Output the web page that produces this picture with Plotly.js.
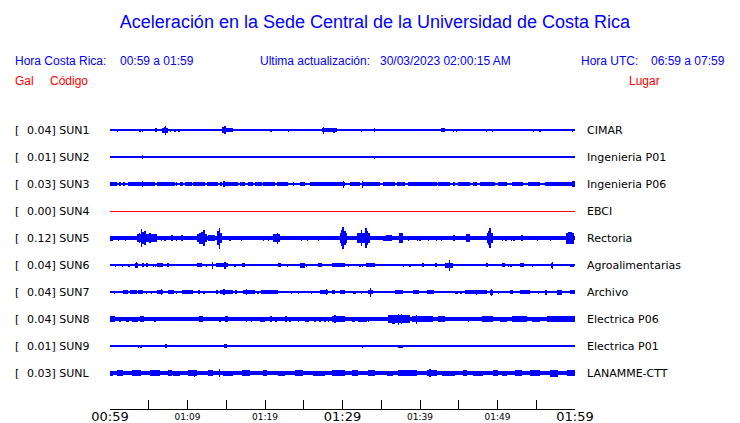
<!DOCTYPE html>
<html>
<head>
<meta charset="utf-8">
<script src="https://cdn.plot.ly/plotly-3.0.1.min.js"></script>
<style>html,body{margin:0;padding:0;background:#fff;}#chart{width:740px;height:423px;}</style>
</head>
<body>
<div id="chart"></div>
<script>
// ---- data ----
const codes  = ['SUN1','SUN2','SUN3','SUN4','SUN5','SUN6','SUN7','SUN8','SUN9','SUNL'];
const places = ['CIMAR','Ingenieria P01','Ingenieria P06','EBCI','Rectoria','Agroalimentarias','Archivo','Electrica P06','Electrica P01','LANAMME-CTT'];
const gal    = [0.04,0.01,0.03,0.00,0.12,0.04,0.04,0.04,0.01,0.03];
// background noise level (half amplitude) per station
const noise  = [0.55,0.55,1.2,0.5,2,0.55,0.55,1.7,0.55,1.7];
const tickMinutes = [0,5,10,15,20,25,30,35,40,45,50,55,60];
const minorLabels = ['','','01:09','','01:19','','','','01:39','','01:49','',''];
const majorMinutes = [0,30,60];
const majorLabels = ['00:59','01:29','01:59'];

// events per station: [minute after 00:59, duration (min), half amplitude]
const SUN1 = [[0.94,0.15,1.5],[3.87,0.15,1.5],[4.17,0.15,1.5],[5.9,0.3,1.8],[7.1,0.8,2.5],[7.14,0.15,4.5],[7.0,0.15,3],[7.78,0.15,1.5],[8.39,0.15,1.5],[8.9,0.15,1.5],[15.2,1.3,2],[14.84,0.2,4],[14.7,0.4,3],[19.14,0.15,1],[19.57,0.15,1.2],[20.77,0.15,1.5],[23.01,0.15,1.5],[28.3,1.9,2],[27.57,0.15,3.5],[28.9,0.15,2.5],[32.48,0.15,1.5],[33.55,0.15,1],[34.13,0.25,2],[43.0,0.5,2],[44.3,0.15,1.5],[44.74,0.15,1.5],[48.61,0.15,1.5],[49.33,0.15,1.5],[54.62,0.15,1.5],[55.48,0.15,1.5],[59.65,0.15,1.5]];
const SUN2 = [[4.17,0.15,1.7],[5.81,0.15,1],[34.13,0.25,1.5],[59.78,0.15,1]];
const SUN3 = [[0.43,0.86,2],[1.29,0.15,2],[1.83,0.22,2],[3.22,1.73,2],[4.17,0.15,3.2],[5.05,1.5,2],[7.21,2.36,2],[8.61,0.15,2],[9.25,0.43,2],[10.11,0.86,2],[11.5,1.5,2],[13.23,1.5,2],[14.3,0.22,2],[15.59,1.94,2],[14.71,0.15,3],[17.1,0.65,2],[18.17,0.64,2],[19.14,0.86,2],[20.54,1.51,2],[22.26,1.5,2],[23.65,0.2,2],[24.84,0.64,2],[28.07,4.51,2],[30.1,0.15,3.5],[31.62,1.29,2],[32.6,0.15,3.5],[33.66,2.36,2],[36.02,1.51,2],[37.53,1.07,2],[40.32,3.66,2],[43.12,1.51,2],[44.41,0.22,2],[45.7,1.51,2],[47.06,0.51,2],[48.71,1.94,2],[50.64,1.08,2],[52.58,1.5,2],[54.73,1.5,2],[58.07,3.87,2],[59.8,0.3,3]];
const SUN4 = [];
const SUN5 = [[0.2,0.43,2.5],[1.07,0.15,2.5],[2.03,0.15,2.5],[4.74,2.58,4],[3.8,0.2,5],[4.09,0.15,9.3],[4.3,0.3,6],[4.52,0.15,7],[5.2,0.3,5],[6.67,0.15,2.5],[7.1,0.15,2.5],[7.96,0.25,3],[8.61,0.15,2.5],[9.33,0.25,3],[11.84,1.3,4],[11.61,0.15,5.5],[11.9,0.2,6],[12.13,0.15,8],[13.1,0.9,3],[14.09,0.64,5],[13.95,0.2,7],[14.1,0.15,10.5],[15.48,0.15,2.5],[16.99,0.15,2.5],[19.78,0.15,2.5],[20.43,0.15,2.5],[21.5,0.87,4],[21.59,0.15,5.5],[24.74,0.15,2.5],[25.51,0.15,2.5],[26.88,0.15,2.5],[30.1,0.86,5],[29.85,0.2,8],[30.05,0.2,11],[30.3,0.2,7],[32.7,1.7,5],[32.48,0.2,8],[33.03,0.2,10],[33.2,0.2,7],[35.4,0.3,2.5],[36.0,0.7,3],[37.55,0.45,5],[38.49,0.15,2.5],[39.65,0.15,2.5],[40.0,0.15,2.5],[41.07,0.15,2.5],[42.15,0.15,2.5],[42.8,0.15,2.5],[44.41,0.25,3],[46.2,0.5,4],[49.03,0.85,5],[48.85,0.15,7],[49.03,0.2,10],[50.62,0.15,2.5],[51.1,0.15,2.5],[51.83,0.15,2.5],[52.13,0.15,2.5],[53.22,0.25,3],[55.14,0.15,2.5],[56.86,0.15,2.5],[59.35,1.0,5.5],[59.3,0.5,6]];
const SUN6 = [[0.73,0.2,1.5],[1.59,0.15,1.5],[2.45,0.15,1.5],[3.4,0.35,2.5],[3.45,0.15,3],[4.3,0.25,2],[4.73,0.25,2],[5.59,0.15,1.5],[5.89,0.15,1.5],[6.5,0.77,2],[7.53,0.25,2],[9.89,0.15,1],[11.5,0.64,1.8],[12.48,0.15,1.5],[13.2,0.15,3.5],[14.4,1.55,2],[14.84,0.15,3.5],[16.13,0.15,1.5],[17.2,0.4,1.8],[18.49,0.15,1],[20.0,0.15,1],[21.9,0.35,2],[22.92,0.15,1.5],[24.84,0.64,2.5],[25.38,0.15,1.5],[27.1,0.44,2],[29.46,1.7,2],[30.75,0.15,1.5],[32.26,0.15,1.5],[32.6,0.15,1.5],[33.6,1.16,2],[37.85,0.15,1.5],[38.71,0.15,1.5],[40.35,0.3,2],[42.05,0.2,2],[43.76,1.07,2.5],[43.78,0.15,5.5],[48.61,0.25,2],[50.75,0.43,2],[51.4,0.15,1.5],[51.74,0.15,1.5],[53.16,0.52,2],[54.54,0.15,1.5],[57.03,0.35,2.5],[57.07,0.15,3.5],[59.6,0.43,1.5]];
const SUN7 = [[0.56,0.15,1.5],[1.07,0.15,1],[2.0,0.56,2],[3.05,0.95,2],[3.98,0.64,2],[4.73,0.15,1.5],[5.38,0.15,1.5],[6.45,0.85,2],[6.67,0.15,3],[7.87,0.86,2],[8.61,0.15,1.5],[10.04,1.42,2],[11.5,0.22,2],[12.15,0.22,1.5],[13.8,0.34,2],[15.05,1.72,2.3],[14.71,0.15,3],[16.24,0.22,2],[17.95,1.5,2],[17.63,0.15,3],[19.1,0.34,1.5],[20.56,2.16,2],[23.44,0.15,1.5],[24.3,0.15,1.5],[26.02,0.15,1.5],[27.63,1.07,2.3],[27.9,0.15,3],[28.82,0.43,2],[30.0,0.64,2],[31.57,0.35,1.5],[32.48,0.15,1.5],[33.6,0.57,2],[33.64,0.15,4.5],[35.7,0.15,1],[37.3,1.08,2],[39.52,0.77,2],[41.37,0.87,2],[44.73,0.42,1.5],[45.29,0.15,1.5],[47.2,2.8,2],[47.31,0.15,2.5],[49.25,0.43,2.5],[49.25,0.15,3.5],[50.1,0.15,1.5],[51.83,0.43,2.3],[53.55,1.29,2],[55.27,0.15,1.5],[56.28,0.3,2.5],[58.0,0.56,2.5],[59.68,0.65,2]];
const SUN8 = [[0.32,0.65,3],[1.29,0.15,2.5],[2.26,0.4,2.5],[3.23,0.86,2.5],[4.15,0.56,3],[5.81,0.15,2.5],[7.96,0.15,2],[11.76,0.56,3],[14.19,0.15,2.5],[15.0,0.35,3],[17.63,0.15,2.5],[18.28,0.15,2.5],[19.68,0.65,2.5],[20.75,0.22,3],[21.4,0.22,2.5],[22.69,0.22,3],[23.23,0.15,2.5],[24.3,0.15,2.5],[25.42,0.52,2.5],[26.45,0.15,2.5],[27.1,0.15,2.5],[27.74,0.15,2.5],[28.17,0.15,2.5],[29.46,1.7,3],[29.03,0.15,4],[31.4,0.43,2.5],[32.58,1.08,2.5],[33.33,0.15,2.5],[37.3,2.8,4],[37.2,0.15,5.5],[37.63,0.15,5],[36.6,0.3,4.5],[39.57,0.15,4.5],[40.32,2.8,3],[42.8,0.87,3],[46.23,0.15,2.5],[48.71,1.5,3],[50.75,0.86,2.5],[52.8,1.94,3],[54.95,1.07,2.5],[58.17,3.66,3]];
const SUN9 = [[3.01,0.15,1],[3.66,0.15,1.5],[4.0,0.15,1.5],[6.03,0.15,1],[6.24,0.15,1],[7.2,0.22,2],[11.53,0.15,1],[13.03,0.15,1],[14.9,0.3,2],[15.48,0.15,1],[15.7,0.15,1],[20.86,0.15,1],[21.94,0.15,1],[26.88,0.15,1.3],[27.53,0.15,1.3],[29.25,0.15,1.3],[30.54,0.15,1],[32.6,0.2,1.5],[33.33,0.15,1.3],[36.23,0.65,1.3],[37.5,0.65,1.5],[38.7,0.43,1.3],[39.65,0.15,1.3],[40.22,0.15,1.3],[41.16,0.43,1.3],[43.65,0.15,1],[45.59,0.15,1],[46.67,0.15,1],[49.14,0.22,1.3],[51.4,0.15,1],[52.9,0.15,1],[56.34,0.15,1],[57.63,0.15,1],[59.57,0.15,1]];
const SUNL = [[0.2,0.4,2.5],[1.29,0.86,3],[3.4,1.2,3],[5.8,1.29,3],[7.7,0.52,3],[8.6,0.86,2.5],[10.65,1.08,3],[10.9,0.15,3.5],[13.0,0.64,3],[14.1,0.15,4],[15.27,1.29,2.5],[17.57,1.0,3],[20.0,0.44,3],[22.15,0.86,2.5],[24.4,1.07,3],[27.0,1.5,2.5],[29.46,1.72,3],[31.6,0.86,3],[33.76,0.86,3],[36.13,0.86,2.5],[38.4,2.37,3],[41.29,0.15,4],[41.5,1.29,3],[43.66,1.72,2.5],[45.8,0.43,3],[47.5,1.29,2.5],[49.78,0.64,3],[50.86,0.64,2.5],[52.7,0.86,3],[54.84,1.29,3],[57.3,1.08,3.5],[59.46,1.07,3]];
const events = [SUN1,SUN2,SUN3,SUN4,SUN5,SUN6,SUN7,SUN8,SUN9,SUNL];

// ---- layout constants ----
const W = 740, H = 423;
const L = 110, R = 575, T = 110, B = 409;
const spacing = 27, firstOffset = 20;
const BLUE = 'rgb(0,0,255)', RED = 'rgb(255,0,0)';
const px2x = p => (p - L) / (R - L);
const py2y = p => (B - p) / (B - T);

const traces = [];
codes.forEach((c, i) => {
  const off = -firstOffset - spacing * i;
  const col = (c === 'SUN4') ? RED : BLUE;
  traces.push({type:'bar', x:[30], width:[60], base:[off - noise[i]], y:[2*noise[i]],
    marker:{color:col, line:{width:0}}, opacity:1, hoverinfo:'skip', showlegend:false});
  const ev = events[i];
  if (ev.length) {
    traces.push({type:'bar', x:ev.map(e=>e[0]), width:ev.map(e=>e[1]),
      base:ev.map(e=>off - e[2]), y:ev.map(e=>2*e[2]),
      marker:{color:col, line:{width:0}}, opacity:1, hoverinfo:'skip', showlegend:false});
  }
});
traces.push({type:'scatter', x:[0], y:[0], xaxis:'x2', yaxis:'y', mode:'markers',
  marker:{opacity:0}, hoverinfo:'skip', showlegend:false});

const ann = [];
const hdrFont = {family:'Liberation Sans, Arial, sans-serif', size:12, color:BLUE};
const redFont = {family:'Liberation Sans, Arial, sans-serif', size:12, color:RED};
const stFont  = {family:'DejaVu Sans, sans-serif', size:11, color:'#000'};
function addText(text, xpx, ypx, font, anchor) {
  ann.push({xref:'paper', yref:'paper', x:px2x(xpx), y:py2y(ypx), text:text, showarrow:false,
    xanchor:anchor||'left', yanchor:'middle', font:font, borderpad:0});
}
addText('Hora Costa Rica:', 14, 61, hdrFont);
addText('00:59 a 01:59', 119, 61, hdrFont);
addText('Ultima actualización:', 259, 61, hdrFont);
addText('30/03/2023 02:00:15 AM', 379, 61, hdrFont);
addText('Hora UTC:', 580, 61, hdrFont);
addText('06:59 a 07:59', 726, 61, hdrFont, 'right');
addText('Gal', 14, 81, redFont);
addText('Código', 49, 81, redFont);
addText('Lugar', 628, 81, redFont);

codes.forEach((c, i) => {
  const off = -firstOffset - spacing * i;
  ann.push({xref:'paper', yref:'y', x:px2x(14), y:off, text:'[', showarrow:false,
    xanchor:'left', yanchor:'middle', font:stFont, borderpad:0});
  ann.push({xref:'paper', yref:'y', x:px2x(26), y:off, text:gal[i].toFixed(2) + '] ' + c, showarrow:false,
    xanchor:'left', yanchor:'middle', font:stFont, borderpad:0});
  ann.push({xref:'paper', yref:'y', x:px2x(586), y:off, text:places[i], showarrow:false,
    xanchor:'left', yanchor:'middle', font:stFont, borderpad:0});
});

const layout = {
  width:W, height:H,
  margin:{l:L, r:W-R, t:T, b:H-B, pad:0},
  paper_bgcolor:'#fff', plot_bgcolor:'#fff',
  barmode:'overlay', bargap:0,
  showlegend:false,
  title:{text:'Aceleración en la Sede Central de la Universidad de Costa Rica',
    font:{family:'Liberation Sans, Arial, sans-serif', size:18, color:BLUE},
    x:375/W, xanchor:'center', y:1-22/H, yanchor:'middle', xref:'container', yref:'container'},
  xaxis:{range:[0,60], tickmode:'array', tickvals:tickMinutes, ticktext:minorLabels,
    ticks:'inside', ticklen:9, tickwidth:1, tickcolor:'#000', ticklabelstandoff:-1,
    showline:true, linecolor:'#000', linewidth:1, showgrid:false, zeroline:false,
    tickfont:{family:'DejaVu Sans, sans-serif', size:9, color:'#000'}, fixedrange:true},
  xaxis2:{range:[0,60], overlaying:'x', side:'bottom', tickmode:'array', tickvals:majorMinutes, ticktext:majorLabels,
    ticks:'', showline:false, showgrid:false, zeroline:false, ticklabelstandoff:-2,
    tickfont:{family:'DejaVu Sans, sans-serif', size:13, color:'#000'}, fixedrange:true},
  yaxis:{range:[-(B-T), 0], visible:false, showgrid:false, zeroline:false, fixedrange:true},
  annotations:ann
};
Plotly.newPlot('chart', traces, layout, {staticPlot:true, displayModeBar:false});
</script>
</body>
</html>
